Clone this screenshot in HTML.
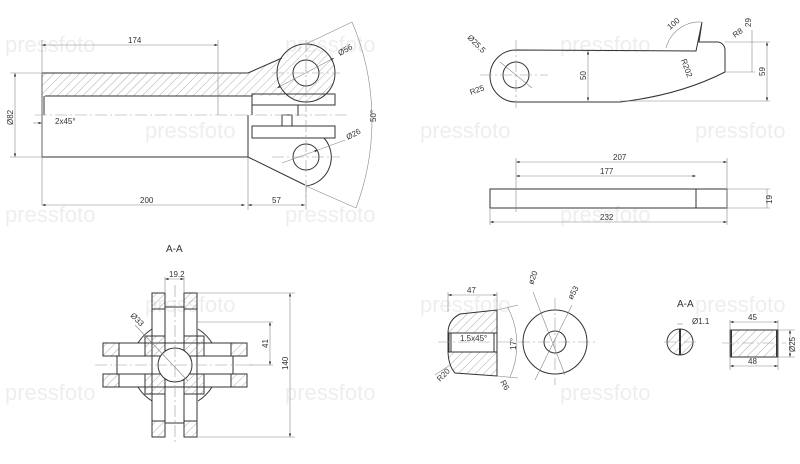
<!DOCTYPE html>
<html><head><meta charset="utf-8"><style>
html,body{margin:0;padding:0;background:#fff;}
svg{display:block;font-family:"Liberation Sans",sans-serif;}
.l{stroke:#333;stroke-width:1;fill:none}
.t{stroke:#888;stroke-width:0.6;fill:none}
.c{stroke:#999;stroke-width:0.6;fill:none;stroke-dasharray:12 3 2 3}
.tx{font-size:8px;fill:#333}
.wm{font-size:22px;fill:#eee}
</style></head><body>
<svg width="800" height="464" viewBox="0 0 800 464" xmlns="http://www.w3.org/2000/svg">
<defs>
<pattern id="h" patternUnits="userSpaceOnUse" width="6" height="6" patternTransform="rotate(45)">
<line x1="0" y1="0" x2="0" y2="6" stroke="#777" stroke-width="0.6"/></pattern>
<marker id="a" markerWidth="6" markerHeight="4" refX="6" refY="2" orient="auto-start-reverse"><path d="M0,0 L6,2 L0,4z" fill="#333"/></marker>
</defs>
<g class="wm">
<text x="5" y="52">pressfoto</text><text x="285" y="52">pressfoto</text><text x="560" y="52">pressfoto</text>
<text x="145" y="138">pressfoto</text><text x="420" y="138">pressfoto</text><text x="695" y="138">pressfoto</text>
<text x="5" y="222">pressfoto</text><text x="285" y="222">pressfoto</text><text x="560" y="222">pressfoto</text>
<text x="145" y="312">pressfoto</text><text x="420" y="312">pressfoto</text><text x="695" y="312">pressfoto</text>
<text x="5" y="400">pressfoto</text><text x="285" y="400">pressfoto</text><text x="560" y="400">pressfoto</text>
</g>

<!-- TOP LEFT -->
<path d="M42,73 L248,73 L282,58 L306,44 A29,29 0 0 1 306,102 L282,96 L252,96 L42,96 Z" fill="url(#h)" stroke="none"/>
<circle cx="306" cy="73" r="13" fill="#fff" stroke="#333"/>
<path class="l" d="M42,73 L248,73 L282,58"/>
<circle class="l" cx="306" cy="73" r="29"/>
<path class="l" d="M42,73 L42,157 L248,157 L305,185"/>
<path class="l" d="M45,96 L252,96 L252,115 M248,115 L248,157"/>
<line class="l" x1="44" y1="96" x2="44" y2="115"/>
<rect class="l" x="252" y="94" width="83" height="11"/>
<rect class="l" x="252" y="126" width="83" height="12"/>
<path class="l" d="M282,126 L282,115 L292,115 L292,126 M298,105 L298,116"/>
<circle class="l" cx="306" cy="157" r="13"/>
<path class="l" d="M324,138 A29,29 0 0 1 306,186"/>
<line class="c" x1="35" y1="115" x2="350" y2="115"/>
<line class="c" x1="306" y1="40" x2="306" y2="200"/>
<line class="c" x1="272" y1="73" x2="340" y2="73"/>
<line class="c" x1="272" y1="157" x2="340" y2="157"/>
<path class="t" d="M42,40 L42,205 M218,40 L218,115 M248,157 L248,210 M306,186 L306,210 M42,73 L10,73 M42,157 L10,157"/>
<line class="t" x1="42" y1="45" x2="218" y2="45" marker-start="url(#a)" marker-end="url(#a)"/>
<text class="tx" x="128" y="43">174</text>
<line class="t" x1="42" y1="205" x2="245" y2="205" marker-start="url(#a)" marker-end="url(#a)"/>
<text class="tx" x="140" y="203">200</text>
<line class="t" x1="248" y1="205" x2="305" y2="205" marker-start="url(#a)" marker-end="url(#a)"/>
<text class="tx" x="272" y="203">57</text>
<line class="t" x1="15" y1="73" x2="15" y2="157" marker-start="url(#a)" marker-end="url(#a)"/>
<text class="tx" transform="translate(13,125) rotate(-90)">Ø82</text>
<line class="t" x1="33" y1="123" x2="42" y2="123" marker-end="url(#a)"/>
<text class="tx" x="55" y="124">2x45°</text>
<path class="t" d="M352,22 A250,250 0 0 1 356,208"/>
<path class="t" d="M306,44 L352,22 M306,186 L356,208"/>
<text class="tx" transform="translate(376,122) rotate(-90)">50°</text>
<line class="t" x1="277" y1="88" x2="334" y2="58" marker-start="url(#a)" marker-end="url(#a)"/>
<text class="tx" transform="translate(340,56) rotate(-30)">Ø56</text>
<line class="t" x1="282" y1="163" x2="318" y2="150" marker-end="url(#a)"/>
<line class="t" x1="318" y1="150" x2="345" y2="140"/>
<text class="tx" transform="translate(348,140) rotate(-28)">Ø26</text>

<!-- TOP RIGHT lever -->
<path class="l" d="M516,50 L696,51 L702,22 L699,42 L718,42 A8,8 0 0 1 725,50 L725,72 Q680,95 620,102 L516,102 A26,26 0 0 1 516,50"/>
<circle class="l" cx="516" cy="75" r="13"/>
<line class="c" x1="480" y1="75" x2="548" y2="75"/>
<line class="c" x1="516" y1="40" x2="516" y2="108"/>
<line class="t" x1="588" y1="51" x2="588" y2="101" marker-start="url(#a)" marker-end="url(#a)"/>
<text class="tx" transform="translate(586,80) rotate(-90)">50</text>
<path class="t" d="M725,42 L770,42 M620,101 L770,101 M725,72 L755,72 M752,30 L752,72"/>
<line class="t" x1="767" y1="42" x2="767" y2="101" marker-start="url(#a)" marker-end="url(#a)"/>
<text class="tx" transform="translate(765,76) rotate(-90)">59</text>
<text class="tx" transform="translate(751,27) rotate(-90)">29</text>
<text class="tx" transform="translate(735,38) rotate(-35)">R8</text>
<text class="tx" transform="translate(681,60) rotate(70)">R202</text>
<text class="tx" transform="translate(670,30) rotate(-40)">100</text>
<path class="t" d="M666,48 A35,35 0 0 1 701,22"/>
<text class="tx" transform="translate(467,38) rotate(45)">Ø25.5</text>
<text class="tx" transform="translate(471,95) rotate(-20)">R25</text>
<line class="t" x1="500" y1="62" x2="532" y2="88"/>
<rect class="l" x="490" y="189" width="237" height="19"/>
<line class="l" x1="696" y1="189" x2="696" y2="208"/>
<path class="t" d="M516,158 L516,212 M727,158 L727,225 M490,208 L490,225 M727,189 L770,189 M727,208 L770,208"/>
<line class="t" x1="516" y1="162" x2="727" y2="162" marker-start="url(#a)" marker-end="url(#a)"/>
<text class="tx" x="613" y="160">207</text>
<line class="t" x1="516" y1="176" x2="696" y2="176" marker-start="url(#a)" marker-end="url(#a)"/>
<text class="tx" x="600" y="174">177</text>
<line class="t" x1="490" y1="222" x2="727" y2="222" marker-start="url(#a)" marker-end="url(#a)"/>
<text class="tx" x="600" y="220">232</text>
<line class="t" x1="767" y1="189" x2="767" y2="208"/>
<text class="tx" transform="translate(772,204) rotate(-90)">19</text>

<!-- BOTTOM LEFT cross -->
<text x="166" y="252" style="font-size:10px;fill:#333">A-A</text>
<g>
<path class="l" d="M138,343 A43,43 0 0 1 152,329 M198,329 A43,43 0 0 1 212,343 M212,387 A43,43 0 0 1 198,401 M152,401 A43,43 0 0 1 138,387"/>
<rect class="l" x="152" y="293" width="13" height="144" fill="#fff"/>
<rect class="l" x="184" y="293" width="13" height="144" fill="#fff"/>
<rect class="l" x="103" y="343" width="144" height="13" fill="#fff"/>
<rect class="l" x="103" y="374" width="144" height="13" fill="#fff"/>
<g fill="url(#h)" stroke="#333" stroke-width="1">
<rect x="152" y="293" width="13" height="16"/><rect x="184" y="293" width="13" height="16"/>
<rect x="152" y="421" width="13" height="16"/><rect x="184" y="421" width="13" height="16"/>
<rect x="103" y="343" width="16" height="13"/><rect x="103" y="374" width="16" height="13"/>
<rect x="231" y="343" width="16" height="13"/><rect x="231" y="374" width="16" height="13"/>
<rect x="145" y="336" width="20" height="20"/><rect x="184" y="336" width="20" height="20"/>
<rect x="145" y="374" width="20" height="20"/><rect x="184" y="374" width="20" height="20"/>
</g>
<path class="l" d="M165,307 L184,307 M165,423 L184,423 M117,356 L117,374 M233,356 L233,374"/>
<circle cx="175" cy="365" r="17" fill="#fff" stroke="#333"/>
</g>
<line class="c" x1="175" y1="285" x2="175" y2="445"/>
<line class="c" x1="95" y1="365" x2="255" y2="365"/>
<path class="t" d="M165,277 L165,293 M184,277 L184,293 M197,293 L295,293 M197,437 L295,437 M197,322 L273,322 M247,365 L273,365"/>
<line class="t" x1="165" y1="279" x2="184" y2="279" marker-start="url(#a)" marker-end="url(#a)"/>
<text class="tx" x="169" y="277">19.2</text>
<line class="t" x1="270" y1="322" x2="270" y2="365" marker-start="url(#a)" marker-end="url(#a)"/>
<text class="tx" transform="translate(268,348) rotate(-90)">41</text>
<line class="t" x1="290" y1="293" x2="290" y2="437" marker-start="url(#a)" marker-end="url(#a)"/>
<text class="tx" transform="translate(288,370) rotate(-90)">140</text>
<line class="t" x1="135" y1="325" x2="188" y2="381"/>
<text class="tx" transform="translate(130,316) rotate(45)">Ø33</text>

<!-- BOTTOM MIDDLE bush -->
<path d="M497,310 L497,376 L455,373 Q448,365 448,350 L448,333 Q448,320 460,314 Z" fill="url(#h)" stroke="#333"/>
<rect x="449" y="333" width="48" height="19" fill="#fff" stroke="#333"/>
<line class="l" x1="451" y1="333" x2="451" y2="352"/><line class="l" x1="494" y1="333" x2="494" y2="352"/>
<line class="c" x1="438" y1="342" x2="595" y2="342"/>
<path class="t" d="M448,312 L448,292 M497,310 L497,292 M497,310 L518,305 M497,376 L518,378"/>
<line class="t" x1="448" y1="295" x2="497" y2="295" marker-start="url(#a)" marker-end="url(#a)"/>
<text class="tx" x="467" y="293">47</text>
<text class="tx" x="460" y="341">1.5x45°</text>
<path class="t" d="M508,308 A80,80 0 0 1 510,377"/>
<text class="tx" transform="translate(516,350) rotate(-90)">17°</text>
<text class="tx" transform="translate(440,382) rotate(-45)">R20</text>
<text class="tx" transform="translate(500,382) rotate(60)">R6</text>
<line class="t" x1="435" y1="375" x2="450" y2="365"/>
<circle class="l" cx="555" cy="342" r="32"/>
<circle class="l" cx="555" cy="342" r="11"/>
<line class="c" x1="555" y1="298" x2="555" y2="385"/>
<line class="t" x1="533" y1="292" x2="565" y2="375"/>
<line class="t" x1="572" y1="305" x2="535" y2="380"/>
<text class="tx" transform="translate(533,285) rotate(-70)">ø20</text>
<text class="tx" transform="translate(572,300) rotate(-60)">ø53</text>

<text x="677" y="307" style="font-size:10px;fill:#333">A-A</text>
<circle cx="680" cy="342" r="13" fill="url(#h)" stroke="#333"/>
<line x1="680" y1="329" x2="680" y2="355" stroke="#333" stroke-width="2"/>
<line class="c" x1="664" y1="342" x2="696" y2="342"/>
<line class="t" x1="677" y1="324" x2="683" y2="324"/>
<text class="tx" x="692" y="324">Ø1.1</text>
<rect x="730" y="330" width="48" height="27" fill="url(#h)" stroke="#333"/>
<line x1="731" y1="330" x2="731" y2="357" stroke="#333" stroke-width="2"/>
<line x1="777" y1="330" x2="777" y2="357" stroke="#333" stroke-width="2"/>
<line class="c" x1="722" y1="343" x2="786" y2="343"/>
<path class="t" d="M730,320 L730,370 M778,320 L778,370 M778,330 L795,330 M778,357 L795,357"/>
<line class="t" x1="730" y1="322" x2="778" y2="322" marker-start="url(#a)" marker-end="url(#a)"/>
<text class="tx" x="748" y="320">45</text>
<line class="t" x1="730" y1="366" x2="778" y2="366" marker-start="url(#a)" marker-end="url(#a)"/>
<text class="tx" x="748" y="364">48</text>
<line class="t" x1="790" y1="330" x2="790" y2="357" marker-start="url(#a)" marker-end="url(#a)"/>
<text class="tx" transform="translate(795,352) rotate(-90)">Ø25</text>
</svg>
</body></html>
